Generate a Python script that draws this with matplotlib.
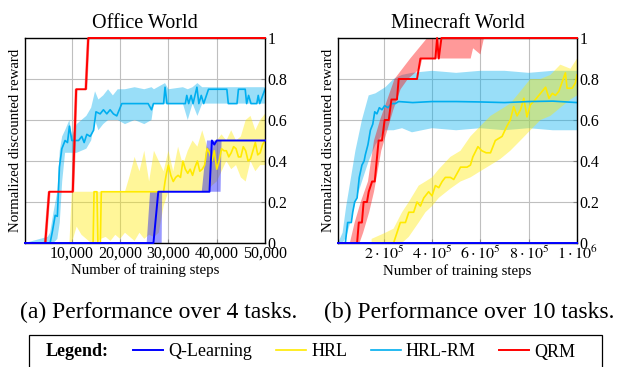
import matplotlib
matplotlib.use('Agg')
import matplotlib.pyplot as plt
from matplotlib.patches import Rectangle

plt.rcParams['font.family'] = ['Liberation Serif', 'DejaVu Serif']
plt.rcParams['mathtext.fontset'] = 'stix'

BLUE = '#0000FF'
YELLOW = '#FFEA00'
CYAN = '#00AEEF'
RED = '#FF0000'

# ---------------- Office World ----------------
ql_office_x = [300, 26900, 27900, 38500, 39000, 39500, 40000, 50000]
ql_office_y = [0, 0, 0.25, 0.25, 0.5, 0.48, 0.5, 0.5]
ql_office_hi_x = [300, 25500, 26200, 36900, 38000, 50000]
ql_office_hi_y = [0, 0, 0.25, 0.25, 0.5, 0.5]
ql_office_lo_x = [300, 28600, 28700, 40800, 41000, 50000]
ql_office_lo_y = [0, 0, 0.25, 0.25, 0.5, 0.5]

qrm_office_x = [300, 4500, 5300, 10200, 10900, 12900, 13400, 50000]
qrm_office_y = [0, 0, 0.25, 0.25, 0.75, 0.75, 1, 1]
qrm_office_hi_x = [300, 4200, 5000, 9900, 10600, 12600, 13100, 50000]
qrm_office_lo_x = [300, 4800, 5600, 10500, 11200, 13200, 13700, 50000]

hrl_office_x = [300, 14400, 14600, 15200, 15400, 15900, 16100, 29000, 29300, 29600,
                30000, 30500, 31000, 31500, 32000, 32500, 33000, 33500, 34000, 34500,
                35000, 35500, 36000, 36500, 37000, 37500, 38000, 38500, 39000, 39500,
                40000, 40500, 41000, 41500, 42000, 42500, 43000, 43500, 44000, 44500,
                45000, 45500, 46000, 46500, 47000, 47500, 48000, 48500, 49000, 49500, 50000]
hrl_office_y = [0, 0, 0.25, 0.25, 0, 0, 0.25, 0.25, 0.3, 0.34,
                0.38, 0.33, 0.3, 0.32, 0.33, 0.32, 0.4, 0.36, 0.34, 0.36,
                0.33, 0.37, 0.4, 0.35, 0.36, 0.38, 0.46, 0.44, 0.4, 0.45,
                0.36, 0.4, 0.46, 0.45, 0.45, 0.42, 0.44, 0.47, 0.46, 0.42,
                0.42, 0.47, 0.45, 0.4, 0.41, 0.45, 0.49, 0.43, 0.44, 0.48, 0.5]
hrl_office_band_x = [9500, 10000, 11000, 12000, 13000, 14000, 15000, 16000, 17000, 18000,
                     19000, 20000, 21000, 22000, 23000, 24000, 25000, 26000, 27000, 28000,
                     29000, 30000, 31000, 32000, 33000, 34000, 35000, 36000, 37000, 38000,
                     39000, 40000, 41000, 42000, 43000, 44000, 45000, 46000, 47000, 48000,
                     49000, 50000]
hrl_office_lo = [0, 0, 0.08, 0.04, 0.02, 0, 0, 0.02, 0.03, 0.01,
                 0.04, 0.02, 0.05, 0.03, 0.01, 0.05, 0.02, 0.04, 0.03, 0.05,
                 0.18, 0.25, 0.25, 0.25, 0.25, 0.25, 0.25, 0.25, 0.25, 0.25,
                 0.28, 0.3, 0.35, 0.4, 0.36, 0.38, 0.32, 0.3, 0.4, 0.35,
                 0.38, 0.38]
hrl_office_hi = [0, 0.25, 0.25, 0.25, 0.25, 0.25, 0.25, 0.25, 0.25, 0.25,
                 0.25, 0.25, 0.25, 0.33, 0.42, 0.35, 0.45, 0.3, 0.45, 0.4,
                 0.35, 0.45, 0.35, 0.47, 0.38, 0.45, 0.5, 0.47, 0.55, 0.47,
                 0.45, 0.5, 0.53, 0.5, 0.55, 0.5, 0.52, 0.6, 0.62, 0.55,
                 0.6, 0.63]

rm_office_x = [300, 5500, 6000, 6550, 7000, 7430, 7930, 8600, 9100, 9500,
               10000, 10700, 11400, 12060, 12550, 13100, 13800, 14500, 15000, 15860,
               16540, 17240, 17930, 18600, 19300, 20350, 23500, 25800, 26500, 26900,
               29000, 29300, 29700, 33500, 33800, 34200, 34700, 35100, 35900, 36300,
               36800, 37300, 38300, 42100, 42400, 44200, 44500, 45900, 46200, 46600,
               47100, 48300, 48600, 48900, 50000]
rm_office_y = [0, 0, 0.06, 0.135, 0.13, 0.37, 0.46, 0.5, 0.49, 0.57,
               0.5, 0.5, 0.5, 0.52, 0.49, 0.53, 0.52, 0.55, 0.64, 0.63,
               0.65, 0.63, 0.65, 0.63, 0.62, 0.68, 0.68, 0.68, 0.65, 0.68,
               0.68, 0.76, 0.68, 0.68, 0.72, 0.68, 0.72, 0.68, 0.76, 0.68,
               0.72, 0.68, 0.75, 0.75, 0.68, 0.68, 0.75, 0.75, 0.68, 0.72,
               0.68, 0.68, 0.72, 0.68, 0.75]
rm_office_band_x = [300, 5000, 5500, 6200, 7000, 7500, 8000, 8600, 9500, 10000,
                    11000, 12000, 13000, 14000, 14800, 15500, 16500, 17500, 18500, 19500,
                    21000, 23000, 25000, 26500, 27000, 29300, 30000, 33000, 34000, 35000,
                    36000, 37000, 40000, 45000, 50000]
rm_office_lo = [0, 0, 0, 0, 0.02, 0.1, 0.3, 0.44, 0.44, 0.44,
                0.44, 0.45, 0.46, 0.5, 0.6, 0.55, 0.58, 0.6, 0.6, 0.6,
                0.58, 0.6, 0.58, 0.6, 0.68, 0.68, 0.68, 0.68, 0.6, 0.68,
                0.62, 0.68, 0.68, 0.68, 0.68]
rm_office_hi = [0, 0.03, 0.05, 0.15, 0.25, 0.45, 0.52, 0.55, 0.6, 0.52,
                0.58, 0.6, 0.62, 0.66, 0.74, 0.7, 0.72, 0.75, 0.72, 0.75,
                0.75, 0.76, 0.75, 0.76, 0.75, 0.78, 0.75, 0.76, 0.75, 0.76,
                0.78, 0.76, 0.76, 0.76, 0.76]

# ---------------- Minecraft World ----------------
ql_mc_x = [11000, 1000000]
ql_mc_y = [0, 0]

qrm_mc_x = [11000, 90000, 97000, 110000, 117000, 131000, 138000, 152000, 163000, 179000,
            193000, 204000, 221000, 232000, 255000, 262000, 290000, 338000, 352000, 414000,
            421000, 428000, 439000, 1000000]
qrm_mc_y = [0, 0, 0.1, 0.1, 0.2, 0.2, 0.25, 0.3, 0.3, 0.5,
            0.5, 0.6, 0.6, 0.7, 0.7, 0.8, 0.8, 0.8, 0.9, 0.9,
            1.0, 0.9, 1.0, 1.0]
qrm_mc_hi_x = [11000, 60000, 80000, 105000, 135000, 160000, 185000, 215000, 245000, 310000,
               380000, 1000000]
qrm_mc_hi_y = [0, 0, 0.1, 0.2, 0.3, 0.5, 0.6, 0.7, 0.8, 0.9, 1, 1]
qrm_mc_lo_x = [11000, 100000, 115000, 140000, 160000, 190000, 215000, 240000, 270000, 300000,
               350000, 360000, 560000, 570000, 600000, 615000, 1000000]
qrm_mc_lo_y = [0, 0, 0.05, 0.15, 0.25, 0.45, 0.55, 0.65, 0.75, 0.8,
               0.85, 0.9, 0.9, 0.95, 0.92, 1, 1]

rm_mc_x = [11000, 41400, 51000, 66000, 72000, 80000, 90000, 99000, 110000, 119000,
           124000, 135000, 145000, 155000, 163000, 172000, 182000, 193000, 204000, 218000,
           232000, 248000, 262000, 320000, 400000, 500000, 600000, 700000, 800000, 900000,
           1000000]
rm_mc_y = [0, 0, 0.1, 0.1, 0.15, 0.2, 0.22, 0.32, 0.38, 0.4,
           0.43, 0.48, 0.55, 0.58, 0.64, 0.63, 0.66, 0.65, 0.67, 0.66,
           0.68, 0.68, 0.69, 0.685, 0.69, 0.69, 0.688, 0.685, 0.69, 0.692,
           0.685]
rm_mc_band_x = [11000, 30000, 45000, 62000, 83000, 110000, 138000, 166000, 207000, 241000,
                276000, 317000, 400000, 500000, 600000, 700000, 800000, 900000, 1000000]
rm_mc_lo = [0, 0, 0.03, 0.1, 0.2, 0.3, 0.4, 0.48, 0.55, 0.55,
            0.56, 0.54, 0.56, 0.55, 0.56, 0.55, 0.56, 0.55, 0.55]
rm_mc_hi = [0, 0.05, 0.18, 0.3, 0.45, 0.6, 0.72, 0.73, 0.76, 0.8,
            0.82, 0.83, 0.84, 0.83, 0.84, 0.84, 0.83, 0.84, 0.84]

hrl_mc_x = [11000, 241000, 255000, 269000, 290000, 304000, 324000, 338000, 352000, 366000,
            386000, 400000, 414000, 428000, 442000, 455000, 476000, 490000, 518000, 545000,
            559000, 569000, 590000, 606000, 624000, 642000, 662000, 690000, 710000, 724000,
            738000, 752000, 766000, 780000, 793000, 807000, 828000, 849000, 870000, 884000,
            898000, 911000, 925000, 952000, 959000, 980000, 993000, 1000000]
hrl_mc_y = [0, 0, 0.05, 0.1, 0.1, 0.15, 0.15, 0.2, 0.18, 0.22,
            0.25, 0.23, 0.28, 0.27, 0.3, 0.32, 0.32, 0.31, 0.37, 0.37,
            0.38, 0.42, 0.47, 0.45, 0.44, 0.44, 0.5, 0.52, 0.57, 0.6,
            0.665, 0.62, 0.65, 0.706, 0.615, 0.674, 0.7, 0.73, 0.76, 0.706,
            0.73, 0.72, 0.74, 0.83, 0.755, 0.755, 0.78, 0.82]
hrl_mc_band_x = [150000, 207000, 241000, 276000, 304000, 345000, 373000, 400000, 428000, 476000,
                 518000, 559000, 600000, 642000, 683000, 724000, 766000, 807000, 849000, 890000,
                 931000, 973000, 1000000]
hrl_mc_lo = [0, 0, 0, 0, 0.03, 0.1, 0.15, 0.18, 0.22, 0.265,
             0.3, 0.32, 0.35, 0.38, 0.41, 0.45, 0.5, 0.55, 0.6, 0.62,
             0.66, 0.7, 0.72]
hrl_mc_hi = [0.02, 0.05, 0.07, 0.15, 0.2, 0.28, 0.3, 0.32, 0.36, 0.42,
             0.45, 0.52, 0.57, 0.62, 0.65, 0.68, 0.74, 0.8, 0.8, 0.82,
             0.87, 0.85, 0.9]

y_ticks = [0, 0.2, 0.4, 0.6, 0.8, 1]
y_tick_labels = ['0', '0.2', '0.4', '0.6', '0.8', '1']
office_ticks = [10000, 20000, 30000, 40000, 50000]
office_tick_labels = ['10,000', '20,000', '30,000', '40,000', '50,000']
mc_ticks = [200000, 400000, 600000, 800000, 1000000]
mc_tick_labels = [r'$2\cdot10^{5}$', r'$4\cdot10^{5}$', r'$6\cdot10^{5}$',
                  r'$8\cdot10^{5}$', r'$1\cdot10^{6}$']


def band(ax, x_hi, y_hi, x_lo, y_lo, color, alpha):
    ax.fill(list(x_hi) + list(x_lo)[::-1], list(y_hi) + list(y_lo)[::-1],
            color=color, alpha=alpha, lw=0)


def style(ax, title, xlim, ticks, labels):
    ax.set_xlim(*xlim)
    ax.set_ylim(0, 1)
    ax.set_xticks(ticks)
    ax.set_xticklabels(labels)
    ax.set_yticks(y_ticks)
    ax.set_yticklabels(y_tick_labels)
    ax.yaxis.tick_right()
    ax.yaxis.set_label_position('left')
    ax.grid(True, color='#bfbfbf', lw=0.8)
    ax.set_axisbelow(True)
    ax.tick_params(direction='in', length=3, color='#888888', labelsize=11.5, pad=2,
                   right=True, top=False, left=False)
    for s in ax.spines.values():
        s.set_linewidth(1.0)
    ax.set_title(title, fontsize=14.5, pad=7.5)
    ax.set_xlabel('Number of training steps', fontsize=10.7, labelpad=1)
    ax.set_ylabel('Normalized discounted reward', fontsize=10.7, labelpad=2)


fig = plt.figure(figsize=(6.17, 3.67), dpi=100)
ax1 = fig.add_axes([25 / 617, 124 / 367, 240 / 617, 205 / 367])
ax2 = fig.add_axes([338 / 617, 124 / 367, 239 / 617, 205 / 367])

# office
band(ax1, rm_office_band_x, rm_office_hi, rm_office_band_x, rm_office_lo, CYAN, 0.4)
band(ax1, hrl_office_band_x, hrl_office_hi, hrl_office_band_x, hrl_office_lo, YELLOW, 0.4)
band(ax1, ql_office_hi_x, ql_office_hi_y, ql_office_lo_x, ql_office_lo_y, BLUE, 0.4)
band(ax1, qrm_office_hi_x, qrm_office_y, qrm_office_lo_x, qrm_office_y, RED, 0.4)
ax1.plot(hrl_office_x, hrl_office_y, color=YELLOW, lw=1.2)
ax1.plot(rm_office_x, rm_office_y, color=CYAN, lw=1.2)
ax1.plot(qrm_office_x, qrm_office_y, color=RED, lw=1.4, clip_on=False, zorder=3)
ax1.plot(ql_office_x, ql_office_y, color=BLUE, lw=1.4, clip_on=False, zorder=3)
style(ax1, 'Office World', (300, 50000), office_ticks, office_tick_labels)

# minecraft
band(ax2, rm_mc_band_x, rm_mc_hi, rm_mc_band_x, rm_mc_lo, CYAN, 0.4)
band(ax2, hrl_mc_band_x, hrl_mc_hi, hrl_mc_band_x, hrl_mc_lo, YELLOW, 0.4)
band(ax2, qrm_mc_hi_x, qrm_mc_hi_y, qrm_mc_lo_x, qrm_mc_lo_y, RED, 0.4)
l_hrl, = ax2.plot(hrl_mc_x, hrl_mc_y, color=YELLOW, lw=1.2)
l_rm, = ax2.plot(rm_mc_x, rm_mc_y, color=CYAN, lw=1.2)
l_qrm, = ax2.plot(qrm_mc_x, qrm_mc_y, color=RED, lw=1.4, clip_on=False, zorder=3)
l_ql, = ax2.plot(ql_mc_x, ql_mc_y, color=BLUE, lw=1.4, clip_on=False, zorder=3)
style(ax2, 'Minecraft World', (11000, 1000000), mc_ticks, mc_tick_labels)

fig.text(159 / 617, 1 - 312 / 367, '(a) Performance over 4 tasks.', fontsize=17,
         ha='center', va='center')
fig.text(469 / 617, 1 - 312 / 367, '(b) Performance over 10 tasks.', fontsize=17,
         ha='center', va='center')

fig.patches.append(Rectangle((29 / 617, -0.05), 573 / 617, 0.05 + 32 / 367,
                             transform=fig.transFigure, fill=False, lw=0.9,
                             edgecolor='black'))
fig.text(46 / 617, 15 / 367, 'Legend:', fontsize=13, weight='bold',
         ha='left', va='center')
fig.legend([l_ql, l_hrl, l_rm, l_qrm], ['Q-Learning', 'HRL', 'HRL-RM', 'QRM'],
           loc='center left', bbox_to_anchor=(133 / 617, 15 / 367), ncol=4,
           frameon=False, fontsize=13, handlelength=1.66, handletextpad=0.3,
           columnspacing=1.3, borderpad=0, borderaxespad=0)

fig.savefig('out.png', dpi=100)
